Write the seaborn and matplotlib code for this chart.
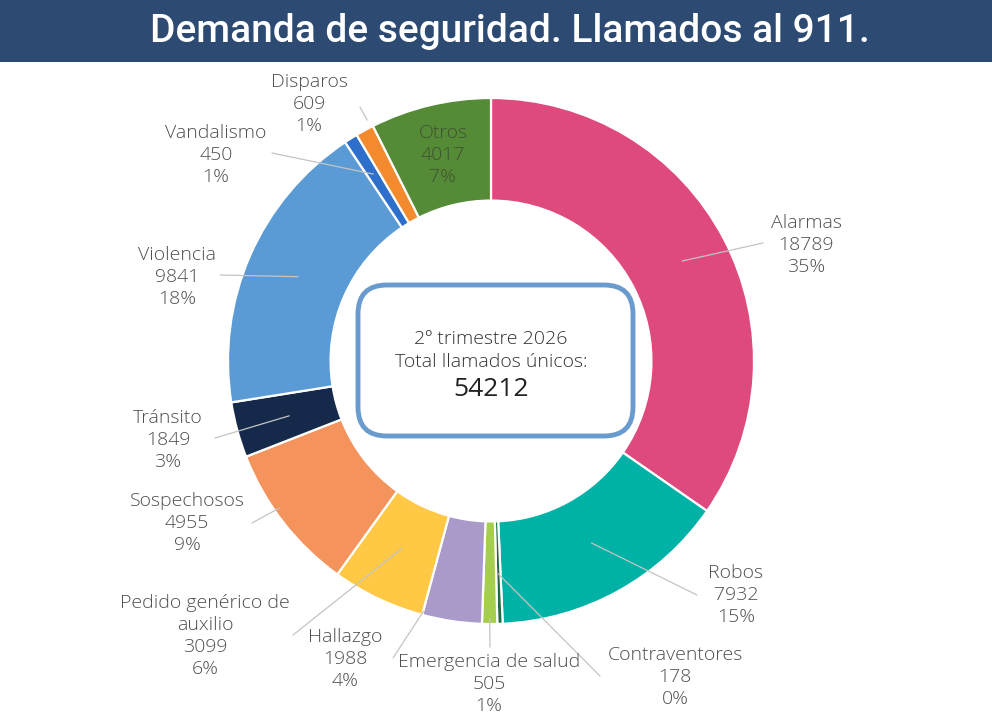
import numpy as np
import matplotlib
matplotlib.use("Agg")
import matplotlib.pyplot as plt
from matplotlib.patches import FancyBboxPatch, Rectangle
import seaborn as sns

# ---------------- data ----------------
categories = ["Alarmas", "Robos", "Contraventores", "Emergencia de salud", "Hallazgo",
              "Pedido genérico de\nauxilio", "Sospechosos", "Tránsito", "Violencia",
              "Vandalismo", "Disparos", "Otros"]
values = [18789, 7932, 178, 505, 1988, 3099, 4955, 1849, 9841, 450, 609, 4017]
percent_labels = ["35%", "15%", "0%", "1%", "4%", "6%", "9%", "3%", "18%", "1%", "1%", "7%"]
colors = ["#DF4A7E", "#00B1A6", "#1E6B43", "#A6CE4E", "#A99AC9", "#FFC845",
          "#F4935B", "#152A4A", "#5B9BD5", "#2F6FCC", "#F38B2E", "#558B36"]
title = "Demanda de seguridad. Llamados al 911."
center_lines = ["2º trimestre 2026", "Total llamados únicos:"]
total_calls = 54212

# ---------------- layout (reference pixel positions) ----------------
W, H = 992, 727
CX, CY, R = 491, 361, 263
label_px = [(806, 245), (736, 595), (675, 677), (489, 684), (345, 659), (205, 636),
            (187, 523), (168, 440), (177, 277), (216, 155), (309, 104), (443, 155)]
leader_start = [(0, 0.82), (0, 0.79), (0, 0.81), (0, 0.98), (-6.5, 0.985), (0, 0.79),
                (-3, 0.98), (0, 0.795), (0, 0.80), (0, 0.84), (-1.5, 1.03), None]
leader_end_px = [(763, 243), (697, 595), (600, 676), (490, 647), (393, 658), (293, 635),
                 (252, 523), (215, 438), (220, 275), (272, 153), (360, 107), None]


def px2d(x, y):
    return (x - CX) / R, (CY - y) / R


sns.set_theme(style="white")
plt.rcParams["font.family"] = ["Open Sans", "DejaVu Sans"]

fig = plt.figure(figsize=(W / 100, H / 100), dpi=100)
fig.patch.set_facecolor("white")

# title banner
fig.patches.append(Rectangle((0, 1 - 62 / H), 1, 62 / H, transform=fig.transFigure,
                             facecolor="#2D4A73", edgecolor="none", zorder=0))
fig.text(510 / W, 1 - 32 / H, title, ha="center", va="center", color="white",
         fontsize=28, fontweight="medium", family=["Roboto", "DejaVu Sans"])

ax = fig.add_axes([(CX - R) / W, (H - CY - R) / H, 2 * R / W, 2 * R / H])

wedges, _ = ax.pie(values, colors=sns.color_palette(colors), startangle=90, counterclock=False,
                   radius=1, wedgeprops=dict(width=0.39, edgecolor="white", linewidth=1.6))
ax.set_xlim(-1, 1)
ax.set_ylim(-1, 1)
ax.axis("off")

total = float(sum(values))
cum = np.cumsum([0] + values)
text_color = "#4F4F4F"
for i, (cat, v, p) in enumerate(zip(categories, values, percent_labels)):
    mid = 90 - (cum[i] + v / 2) / total * 360
    lx, ly = px2d(*label_px[i])
    col = "#3F5233" if cat == "Otros" else text_color
    ax.text(lx, ly, f"{cat}\n{v}\n{p}", ha="center", va="center", fontsize=14,
            color=col, fontweight="light", linespacing=1.3, clip_on=False, zorder=8)
    if leader_start[i] is not None:
        da, rr = leader_start[i]
        a = np.deg2rad(mid + da)
        sx, sy = rr * np.cos(a), rr * np.sin(a)
        ex, ey = px2d(*leader_end_px[i])
        ax.plot([sx, ex], [sy, ey], color="#C4C4C4", lw=0.9, clip_on=False, zorder=5)

# center box
bx0, by0 = px2d(358, 436)
bx1, by1 = px2d(633, 285)
box = FancyBboxPatch((bx0, by0), bx1 - bx0, by1 - by0,
                     boxstyle="round,pad=0,rounding_size=0.11",
                     facecolor="white", edgecolor="#6A9BCF", linewidth=3.5, zorder=6)
ax.add_patch(box)
tx, ty = px2d(491, 339)
ax.text(tx, ty, center_lines[0], ha="center", va="center", fontsize=14, color="#333333",
        fontweight="light", zorder=7)
tx, ty = px2d(491, 362)
ax.text(tx, ty, center_lines[1], ha="center", va="center", fontsize=14, color="#333333",
        fontweight="light", zorder=7)
tx, ty = px2d(491, 389)
ax.text(tx, ty, f"{total_calls}", ha="center", va="center", fontsize=19, color="#222222", zorder=7)

fig.savefig("out.png", dpi=100)
